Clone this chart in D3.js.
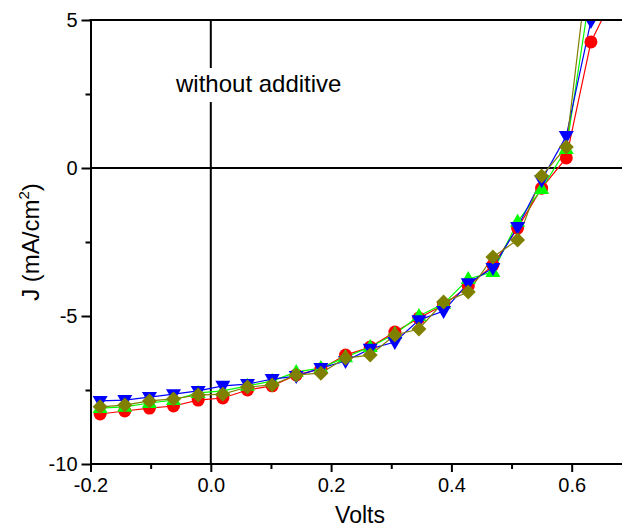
<!DOCTYPE html>
<html>
	<head>
		<meta charset="utf-8" />
		<title>J-V curves</title>
		<style>
			body { margin: 0; background: #fff; }
			#graph { width: 622px; height: 527px; }
			#graph text { font-family: "Liberation Sans", Arial, sans-serif; fill: #000; }
		</style>
	</head>
	<body>
		<div id="graph"></div>
		<script src="https://cdnjs.cloudflare.com/ajax/libs/d3/7.8.5/d3.min.js"></script>
		<script>
			// voltage steps (V)
			var volts = [-0.184, -0.143, -0.102, -0.062, -0.021, 0.020, 0.061, 0.102, 0.142, 0.183,
				0.224, 0.265, 0.306, 0.346, 0.387, 0.428, 0.469, 0.510, 0.550, 0.591, 0.632, 0.673];

			// current density (mA/cm2) per sample
			var redJ = [-8.31, -8.21, -8.11, -8.04, -7.84, -7.77, -7.50, -7.36, -6.99, -6.79,
				-6.32, -6.05, -5.54, -5.07, -4.63, -3.99, -3.28, -2.03, -0.68, 0.34, 4.26, 5.95];
			var greenJ = [-8.11, -8.07, -7.94, -7.84, -7.60, -7.53, -7.36, -7.20, -6.89, -6.76,
				-6.39, -6.05, -5.61, -5.00, -4.59, -3.75, -3.51, -1.82, -0.71, 0.64, 6.11];
			var blueJ = [-7.87, -7.84, -7.74, -7.64, -7.53, -7.36, -7.30, -7.13, -7.03, -6.76,
				-6.52, -6.11, -5.88, -5.14, -4.83, -3.89, -3.38, -1.99, -0.41, 1.08, 4.97];
			var oliveJ = [-8.07, -8.01, -7.87, -7.80, -7.67, -7.64, -7.40, -7.33, -6.99, -6.93,
				-6.42, -6.32, -5.64, -5.44, -4.53, -4.19, -3.01, -2.43, -0.27, 0.71, 7.67];

			var xTicks = [-0.2, -0.1, 0.0, 0.1, 0.2, 0.3, 0.4, 0.5, 0.6];
			var yTicks = [-10, -7.5, -5, -2.5, 0, 2.5, 5];
			var note = "without additive";

			!(function(){
				var width = 622, height = 527;
				var mLeft = 90.5, mTop = 20, mBottom = 464;

				var svg = d3.select("#graph").append("svg")
					.attr("width", width)
					.attr("height", height);

				var x = d3.scaleLinear().domain([-0.2, 0.7]).range([mLeft, mLeft + 601.5 * 0.9]);
				var y = d3.scaleLinear().domain([-10, 5]).range([mBottom, mTop]);

				svg.append("clipPath").attr("id", "plot")
					.append("rect")
					.attr("x", mLeft).attr("y", mTop)
					.attr("width", width - mLeft).attr("height", mBottom - mTop);

				// zero lines
				svg.append("line")
					.attr("x1", mLeft).attr("x2", width)
					.attr("y1", y(0)).attr("y2", y(0))
					.attr("stroke", "#000").attr("stroke-width", 2);
				svg.append("line")
					.attr("x1", x(0)).attr("x2", x(0))
					.attr("y1", mTop).attr("y2", mBottom)
					.attr("stroke", "#000").attr("stroke-width", 2);

				// annotation with white box
				var noteG = svg.append("g");
				var noteBox = noteG.append("rect").attr("fill", "#fff");
				var noteText = noteG.append("text")
					.attr("x", 176).attr("y", 92)
					.style("font-size", "24px")
					.text(note);
				var bb = noteText.node().getBBox();
				noteBox.attr("x", bb.x - 3).attr("y", 68)
					.attr("width", bb.width + 6).attr("height", 34);

				var series = [
					{ values: redJ, color: "#ff0000", shape: "circle" },
					{ values: greenJ, color: "#00ff00", shape: "up" },
					{ values: blueJ, color: "#0000ff", shape: "down" },
					{ values: oliveJ, color: "#808000", shape: "diamond" }
				];

				function shapePath(s) {
					if (s === "circle") return "M6.5,0A6.5,6.5 0 1,1 -6.5,0A6.5,6.5 0 1,1 6.5,0Z";
					if (s === "up") return "M0,-8L7.5,5L-7.5,5Z";
					if (s === "down") return "M0,8L7.5,-5L-7.5,-5Z";
					return "M0,-7.5L7.5,0L0,7.5L-7.5,0Z";
				}

				var line = d3.line()
					.x(function(d) { return x(d.v); })
					.y(function(d) { return y(d.j); });

				var plot = svg.append("g").attr("clip-path", "url(#plot)");

				series.forEach(function(s) {
					var pts = s.values.map(function(j, i) { return { v: volts[i], j: j }; });
					plot.append("path")
						.datum(pts)
						.attr("d", line)
						.attr("fill", "none")
						.attr("stroke", s.color)
						.attr("stroke-width", 1.2);
				});
				series.forEach(function(s) {
					var pts = s.values.map(function(j, i) { return { v: volts[i], j: j }; });
					plot.selectAll(null)
						.data(pts)
						.enter().append("path")
						.attr("d", shapePath(s.shape))
						.attr("transform", function(d) { return "translate(" + x(d.v) + "," + y(d.j) + ")"; })
						.attr("fill", s.color);
				});

				// axes
				var xAxis = svg.append("g")
					.attr("transform", "translate(0," + mBottom + ")")
					.call(d3.axisBottom(x).tickValues(xTicks).tickSizeOuter(0)
						.tickFormat(function(d) { return Math.round(d * 10) % 2 === 0 ? d.toFixed(1) : ""; }));
				xAxis.select(".domain").attr("stroke-width", 2).attr("d", "M" + mLeft + ",0H" + width);
				xAxis.selectAll(".tick line")
					.attr("stroke-width", 2)
					.attr("y2", function(d) { return Math.round(d * 10) % 2 === 0 ? 8 : 5; });
				xAxis.selectAll(".tick text")
					.attr("y", 14)
					.style("font-size", "20px");

				var yAxis = svg.append("g")
					.attr("transform", "translate(" + mLeft + ",0)")
					.call(d3.axisLeft(y).tickValues(yTicks).tickSizeOuter(0)
						.tickFormat(function(d) { return d % 5 === 0 ? String(d) : ""; }));
				yAxis.select(".domain").attr("stroke-width", 2);
				yAxis.selectAll(".tick line")
					.attr("stroke-width", 2)
					.attr("x2", function(d) { return d % 5 === 0 ? -9 : -5; });
				yAxis.selectAll(".tick text")
					.attr("x", -13)
					.style("font-size", "20px");

				// top frame line
				svg.append("line")
					.attr("x1", mLeft - 1).attr("x2", width)
					.attr("y1", mTop).attr("y2", mTop)
					.attr("stroke", "#000").attr("stroke-width", 2);

				svg.append("text")
					.attr("x", 360).attr("y", 523)
					.attr("text-anchor", "middle")
					.style("font-size", "23px")
					.text("Volts");

				var yl = svg.append("text")
					.attr("transform", "translate(39,242) rotate(-90)")
					.attr("text-anchor", "middle")
					.style("font-size", "24px");
				yl.append("tspan").text("J (mA/cm");
				yl.append("tspan").attr("dy", -10).style("font-size", "15px").text("2");
				yl.append("tspan").attr("dy", 10).text(")");
			}());
		</script>
	</body>
</html>
